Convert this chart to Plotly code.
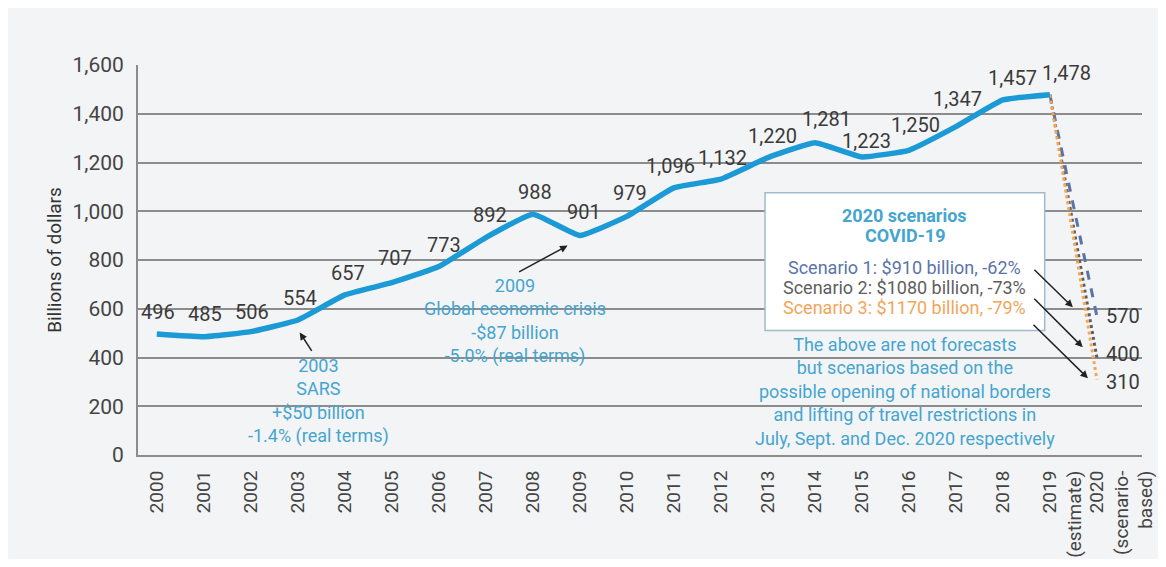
import plotly.graph_objects as go

# ---- data ----
years = ["2000", "2001", "2002", "2003", "2004", "2005", "2006", "2007", "2008", "2009",
         "2010", "2011", "2012", "2013", "2014", "2015", "2016", "2017", "2018",
         "2019<br>(estimate)", "2020<br>(scenario-<br>based)"]
receipts = [496, 485, 506, 554, 657, 707, 773, 892, 988, 901,
            979, 1096, 1132, 1220, 1281, 1223, 1250, 1347, 1457, 1478]
scenario_names = ["Scenario 1", "Scenario 2", "Scenario 3"]
scenario_values = [570, 400, 310]
scenario_text = ["Scenario 1: $910 billion, -62%",
                 "Scenario 2: $1080 billion, -73%",
                 "Scenario 3: $1170 billion, -79%"]

# ---- style ----
FONT = "Roboto"
BG = "#f3f4f6"
LINE = "#1b9ad6"
NOTE = "#45a5cf"
DARK = "#3a3a3a"
scen_colors = ["#5a74aa", "#5e5e5e", "#f2a65a"]
scen_dash = ["dash", "dot", "dot"]
label_xshift = [1, 1, 1, 2, 3, 3, 5, 4, 2, 4, 3, -3, 2, 5, 12, 5, 7, 2, 10, 17]
label_yshift = [22, 23, 20, 22, 22, 25, 22, 23, 22, 23, 23, 22, 21, 22, 24, 16, 25, 28, 22, 22]
scen_label_yshift = [0, 4, -3]
# leading blank lines keep the first line of multi-line ticks on its tick
tick_labels = [("<br>" * y.count("<br>") + y) if "<br>" in y else y for y in years]

fig = go.Figure()

for name, val, col, dash in zip(scenario_names, scenario_values, scen_colors, scen_dash):
    fig.add_trace(go.Scatter(x=[len(receipts) - 1, len(years) - 1], y=[receipts[-1], val],
                             mode="lines", line=dict(color=col, width=3, dash=dash), name=name,
                             showlegend=False, hoverinfo="skip"))

fig.add_trace(go.Scatter(x=list(range(len(receipts))), y=receipts, mode="lines",
                         line=dict(color=LINE, width=5.5, shape="spline", smoothing=0.35),
                         showlegend=False))

anns = []
for i, v in enumerate(receipts):
    anns.append(dict(x=i, y=v, text=f"{v:,}", showarrow=False, xshift=label_xshift[i],
                     yshift=label_yshift[i], font=dict(family=FONT, size=20, color=DARK)))
for v, ys in zip(scenario_values, scen_label_yshift):
    anns.append(dict(x=len(years) - 1, y=v, text=f"{v}", showarrow=False, xanchor="left",
                     xshift=7, yshift=ys, font=dict(family=FONT, size=20, color=DARK)))

NF = 18
# event notes
anns.append(dict(x=3.43, y=221, text="2003<br>SARS<br>+$50 billion<br>-1.4% (real terms)",
                 showarrow=False, font=dict(family=FONT, size=NF, color=NOTE)))
anns.append(dict(x=3.04, y=503, ax=13, ay=20, text="", showarrow=True, arrowhead=2,
                 arrowsize=1, arrowwidth=1.5, arrowcolor="#222"))
anns.append(dict(x=7.62, y=548, text="2009<br>Global economic crisis<br>-$87 billion<br>-5.0% (real terms)",
                 showarrow=False, font=dict(family=FONT, size=NF, color=NOTE)))
anns.append(dict(x=8.74, y=859, ax=-50, ay=27, text="", showarrow=True, arrowhead=2,
                 arrowsize=1, arrowwidth=1.5, arrowcolor="#222"))

# scenario box texts
for txt, yy in [("<b>2020 scenarios</b>", 982), ("<b>COVID-19</b>", 900)]:
    anns.append(dict(x=15.91, y=yy, text=txt, showarrow=False,
                     font=dict(family=FONT, size=NF, color=NOTE)))
for txt, col, yy in zip(scenario_text, scen_colors, [769, 687, 605]):
    anns.append(dict(x=15.91, y=yy, text=txt, showarrow=False,
                     font=dict(family=FONT, size=NF, color=col)))
anns.append(dict(x=15.91, y=262,
                 text="The above are not forecasts<br>but scenarios based on the<br>possible opening of national borders<br>and lifting of travel restrictions in<br>July, Sept. and Dec. 2020 respectively",
                 showarrow=False, font=dict(family=FONT, size=NF, color=NOTE)))
for hx, hy, ax, ay in [(19.49, 606, -40, -39), (19.70, 442, -50, -50), (19.81, 315, -56, -55)]:
    anns.append(dict(x=hx, y=hy, ax=ax, ay=ay, text="", showarrow=True, arrowhead=2,
                     arrowsize=1, arrowwidth=1.5, arrowcolor="#222"))

fig.add_shape(type="rect", x0=12.94, x1=18.89, y0=511, y1=1076, layer="above",
              line=dict(color="#9fbccd", width=1.5), fillcolor="white")

fig.update_layout(
    width=1150, height=551,
    margin=dict(l=130, r=16, t=57, b=104),
    paper_bgcolor=BG, plot_bgcolor=BG,
    font=dict(family=FONT, color=DARK),
    annotations=anns,
    showlegend=False,
)
fig.update_xaxes(type="linear", tickvals=list(range(len(years))), ticktext=tick_labels,
                 range=[-0.4, 20.96], tickangle=-90, showgrid=False, showline=True,
                 linecolor="#8c8c8c", linewidth=2, ticks="", ticklabelstandoff=6,
                 automargin=False, ticklabeloverflow="allow",
                 tickfont=dict(family=FONT, size=19, color="#444"), zeroline=False)
fig.update_yaxes(range=[0, 1600], tickvals=list(range(0, 1601, 200)), tickformat=",",
                 showgrid=True, gridcolor="#8c8c8c", gridwidth=1.5, showline=True,
                 linecolor="#8c8c8c", linewidth=2, zeroline=False, ticks="",
                 ticklabelstandoff=8, automargin=False,
                 tickfont=dict(family=FONT, size=21, color="#444"),
                 title=dict(text="Billions of dollars", standoff=6,
                            font=dict(family=FONT, size=19, color="#333")))

fig.write_html("out.html")
